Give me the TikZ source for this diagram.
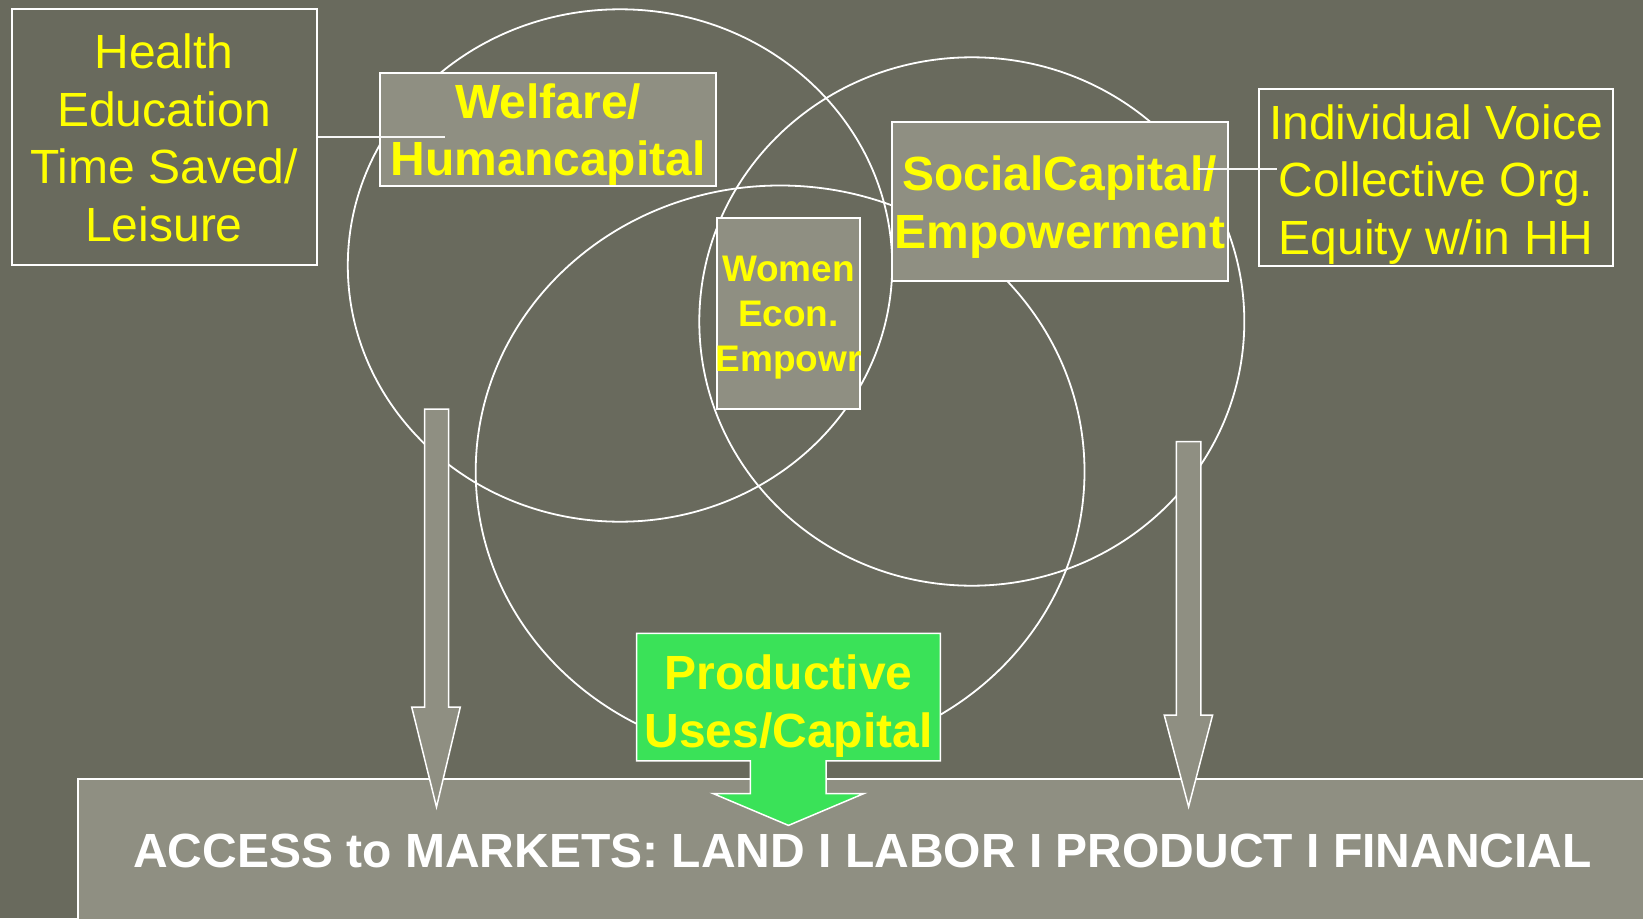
\documentclass[tikz,border=0pt]{standalone}
\usepackage{fontspec}
\setmainfont{Liberation Sans}

\definecolor{slate}{RGB}{105,106,93}
\definecolor{khaki}{RGB}{143,143,130}
\definecolor{leaf}{RGB}{58,226,88}
\definecolor{lemon}{RGB}{255,255,0}

\tikzset{
	ring/.style={draw=white, line width=1.8pt},
	outbox/.style={draw=white, line width=2pt, inner sep=0pt},
	capbox/.style={outbox, fill=khaki},
	plaintxt/.style={align=center, inner sep=0pt, text=lemon, font=\fontsize{48}{57.5}\selectfont},
	boldtxt/.style={plaintxt, font=\bfseries\fontsize{48}{57.5}\selectfont},
	blockarr/.style={draw=white, line width=1.5pt, fill=khaki, line join=miter},
	link/.style={draw=white!92!khaki, line width=2pt}
}

\begin{document}
\begin{tikzpicture}[x=1pt, y=-1pt]
	\useasboundingbox (0,0) rectangle (1643,918);
	\fill[slate] (0,0) rectangle (1643,918);

	% the three circles
	\draw[ring] (620,265.5) ellipse [x radius=272.2, y radius=256.2];
	\draw[ring] (971.8,321.5) ellipse [x radius=272.5, y radius=264.2];
	\draw[ring] (780.1,471.5) ellipse [x radius=304.4, y radius=286];

	% side boxes
	\node[outbox, minimum width=305pt, minimum height=255.7pt] (health) at (164,137.3) {};
	\node[plaintxt] (healthtxt) at (164,138) {Health\\Education\\Time Saved/\\Leisure};

	\node[outbox, minimum width=353.6pt, minimum height=176.7pt] (voice) at (1436,177.4) {};
	\node[plaintxt] (voicetxt) at (1436,184.2) {Individual Voice\\Collective Org.\\Equity w/in HH};

	% circle labels
	\node[capbox, minimum width=335.6pt, minimum height=112.3pt] (welfare) at (548.2,129.4) {};
	\node[boldtxt] (welfaretxt) at (548.2,134.8) {Welfare/\\Humancapital};

	\node[capbox, minimum width=336.3pt, minimum height=159.3pt] (social) at (1059.9,201.2) {};
	\node[boldtxt] (socialtxt) at (1059.9,207.2) {SocialCapital/\\Empowerment};

	\node[capbox, minimum width=143.5pt, minimum height=190.7pt] (women) at (788.5,313.3) {};
	\node[boldtxt, font=\bfseries\fontsize{37}{45}\selectfont] (womentxt) at (788.5,318) {Women\\Econ.\\Empowr};

	% markets band
	\node[capbox, anchor=north west, minimum width=1570pt, minimum height=143.6pt,
		text=white, font=\bfseries\fontsize{48}{57.5}\selectfont] (access) at (76.5,778)
		{ACCESS to MARKETS: LAND I LABOR I PRODUCT I FINANCIAL};

	% arrows down to the band
	\draw[blockarr] (424.5,409) -- (448.5,409) -- (448.5,707) -- (460.3,707) -- (436.5,807)
		-- (411.7,707) -- (424.5,707) -- cycle;
	\draw[blockarr] (1176.3,441.7) -- (1200.9,441.7) -- (1200.9,715) -- (1212.6,715) -- (1188.6,806.7)
		-- (1164.2,715) -- (1176.3,715) -- cycle;

	\draw[blockarr, fill=leaf] (636.6,633.3) -| (940.3,760.9) -- (826,760.9) -- (826,793.5) -- (864,793.5)
		-- (788.5,825.4) -- (713,793.5) -- (750.3,793.5) -- (750.3,760.9) -- (636.6,760.9) -- cycle;
	\node[boldtxt] (prod) at (788.5,706) {Productive\\Uses/Capital};

	% connectors
	\coordinate (wfend) at (445,136.5);
	\draw[link] (health.east |- wfend) -- (wfend);
	\coordinate (scstart) at (1198,169);
	\coordinate (vcend) at (1277,169);
	\draw[link] (scstart) -- (vcend);
\end{tikzpicture}
\end{document}
